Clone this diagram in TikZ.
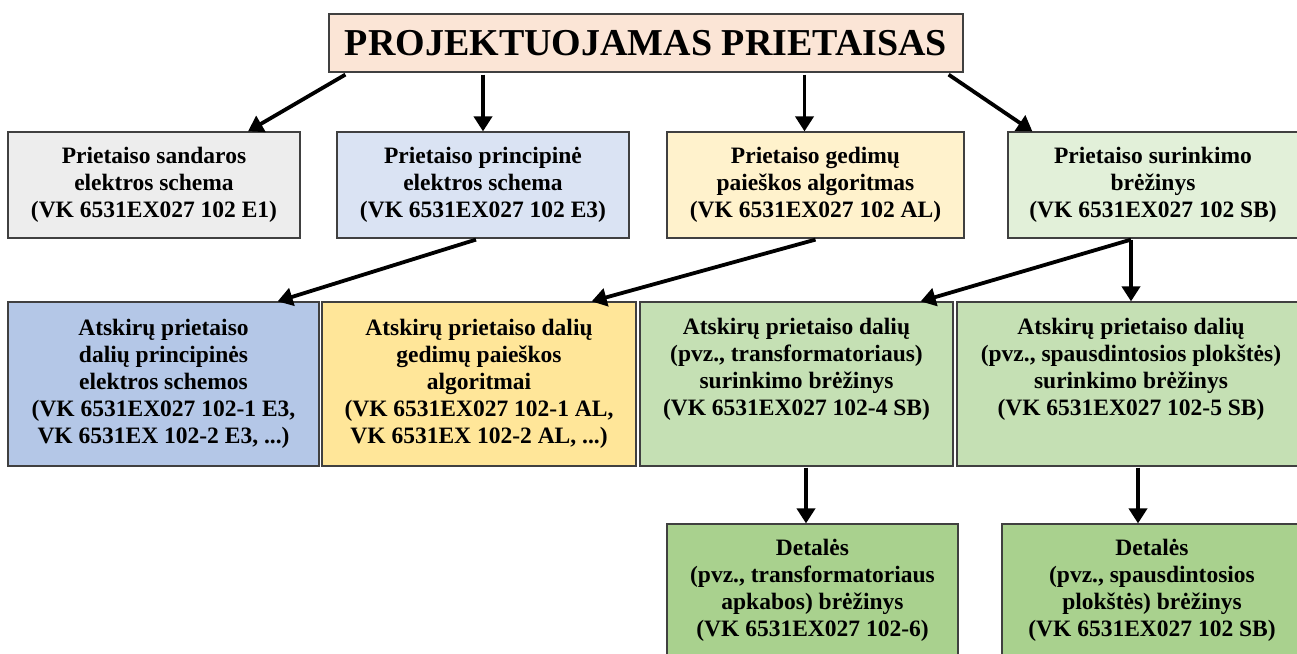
\documentclass[tikz,border=0pt]{standalone}
\usepackage{fontspec}
\setmainfont{Liberation Serif}
\usetikzlibrary{arrows.meta,calc}
\definecolor{cpeach}{HTML}{FBE5D6}
\definecolor{cgray}{HTML}{EDEDED}
\definecolor{clblue}{HTML}{DAE3F3}
\definecolor{clyellow}{HTML}{FFF2CC}
\definecolor{clgreen}{HTML}{E2F0D9}
\definecolor{cblue}{HTML}{B4C7E7}
\definecolor{cyellow}{HTML}{FFE699}
\definecolor{cgreen}{HTML}{C5E0B4}
\definecolor{cdgreen}{HTML}{A9D18E}
\definecolor{cborder}{HTML}{404040}
\begin{document}
\begin{tikzpicture}[x=1pt,y=-1pt,
  box/.style={draw=cborder, line width=1.2pt, rectangle, inner sep=0pt, align=center,
    font=\fontsize{23.5}{27}\selectfont\bfseries},
  conn/.style={line width=3.8pt, -{Triangle[length=15pt,width=18pt]}}]
\useasboundingbox (0,0) rectangle (1297,653);
\clip (0,0) rectangle (1297,653);
\fill[white] (0,0) rectangle (1297,653);

\node[box, fill=cpeach, minimum width=634pt, minimum height=58pt,
  font=\fontsize{38}{44}\selectfont\bfseries] (top) at (646,43) {PROJEKTUOJAMAS PRIETAISAS};

\node[box, fill=cgray, minimum width=292pt, minimum height=106pt] (b1) at (154,185)
  {Prietaiso sandaros\\elektros schema\\(VK 6531EX027 102 E1)};
\node[box, fill=clblue, minimum width=292pt, minimum height=106pt] (b2) at (483,185)
  {Prietaiso principinė\\elektros schema\\(VK 6531EX027 102 E3)};
\node[box, fill=clyellow, minimum width=297pt, minimum height=106pt] (b3) at (815.5,185)
  {Prietaiso gedimų\\paieškos algoritmas\\(VK 6531EX027 102 AL)};
\node[box, fill=clgreen, minimum width=290pt, minimum height=106pt] (b4) at (1153,185)
  {Prietaiso surinkimo\\brėžinys\\(VK 6531EX027 102 SB)};

\node[box, fill=cblue, minimum width=311pt, minimum height=164pt] (b5) at (163.5,384)
  {Atskirų prietaiso\\dalių principinės\\elektros schemos\\(VK 6531EX027 102-1 E3,\\VK 6531EX 102-2 E3, ...)};
\node[box, fill=cyellow, minimum width=314pt, minimum height=164pt] (b6) at (479,384)
  {Atskirų prietaiso dalių\\gedimų paieškos\\algoritmai\\(VK 6531EX027 102-1 AL,\\VK 6531EX 102-2 AL, ...)};
\node[box, fill=cgreen, minimum width=313pt, minimum height=164pt] (b7) at (796.5,384)
  {Atskirų prietaiso dalių\\(pvz., transformatoriaus)\\surinkimo brėžinys\\(VK 6531EX027 102-4 SB)\\\strut};
\node[box, fill=cgreen, minimum width=348pt, minimum height=164pt] (b8) at (1131,384)
  {Atskirų prietaiso dalių\\(pvz., spausdintosios plokštės)\\surinkimo brėžinys\\(VK 6531EX027 102-5 SB)\\\strut};

\node[box, fill=cdgreen, minimum width=291pt, minimum height=132pt] (b9) at (812.5,590)
  {Detalės\\(pvz., transformatoriaus\\apkabos) brėžinys\\(VK 6531EX027 102-6)};
\node[box, fill=cdgreen, minimum width=300pt, minimum height=132pt] (b10) at (1152,590)
  {Detalės\\(pvz., spausdintosios\\plokštės) brėžinys\\(VK 6531EX027 102 SB)};

\draw[conn] ($(top.south west)+(17,2)$) -- ($(b1.north)+(94,0)$);
\draw[conn] ($(top.south -| b2.north)+(0,2)$) -- (b2.north);
\draw[conn] ($(top.south -| b3.north)+(-11,2)$) -- ($(b3.north)+(-11,0)$);
\draw[conn] ($(top.south east)+(-15,2)$) -- ($(b4.north west)+(25,0)$);
\draw[conn] ($(b2.south)+(-7,1)$) -- ($(b5.north east)+(-42,0)$);
\draw[conn] ($(b3.south)+(0,1)$) -- ($(b6.north east)+(-45,0)$);
\draw[conn] ($(b4.south)+(-22,1)$) -- ($(b7.north east)+(-33,0)$);
\draw[conn] ($(b8.north |- b4.south)+(0,1)$) -- (b8.north);
\draw[conn] ($(b7.south -| b9.north)+(-6.5,1)$) -- ($(b9.north)+(-6.5,0)$);
\draw[conn] ($(b8.south -| b10.north)+(-14,1)$) -- ($(b10.north)+(-14,0)$);
\end{tikzpicture}
\end{document}
